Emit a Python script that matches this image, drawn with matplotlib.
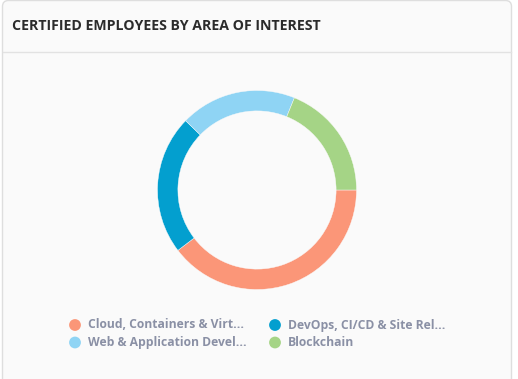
#!/usr/bin/env python3

import matplotlib
matplotlib.use("Agg")
import matplotlib.pyplot as plt
from matplotlib.patches import FancyBboxPatch

plt.rcParams['font.family'] = ['Open Sans', 'DejaVu Sans']

title = "CERTIFIED EMPLOYEES BY AREA OF INTEREST"
labels = ["Cloud, Containers & Virt...", "DevOps, CI/CD & Site Rel...",
          "Web & Application Devel...", "Blockchain"]
values = [21, 12, 10, 10]
colors = ["#fb9678", "#039fcf", "#8fd4f4", "#a5d486"]

W, H = 518, 379
fig = plt.figure(figsize=(W / 100, H / 100), dpi=100, facecolor="white")

# overlay in pixel coords for the card, header and legend
bg = fig.add_axes([0, 0, 1, 1])
bg.set_xlim(0, W)
bg.set_ylim(H, 0)
bg.axis("off")

card = FancyBboxPatch((2.5, 0.5), 509, 420, boxstyle="round,pad=0,rounding_size=6",
                      facecolor="#fafafa", edgecolor="#dedede", linewidth=1)
bg.add_patch(card)
bg.plot([3, 511], [51.5, 51.5], color="#e2e2e2", linewidth=1)
bg.text(12, 26, title, fontsize=10.2, fontweight="bold", color="#2b2b2b",
        va="center", ha="left")

# legend, two columns
col_x = [75, 275]
row_y = [325, 342.5]
for i, (lab, c) in enumerate(zip(labels, colors)):
    x = col_x[i % 2]
    y = row_y[i // 2]
    bg.scatter([x], [y], s=72, color=c, edgecolors="none")
    bg.text(x + 13, y, lab, fontsize=8.7, fontweight="bold", color="#8a90a5",
            va="center", ha="left")

# donut
cx, cy, r = 257, 190, 99.5
ax = fig.add_axes([(cx - r) / W, 1 - (cy + r) / H, 2 * r / W, 2 * r / H])
ax.pie(values, colors=colors, startangle=0, counterclock=False,
       wedgeprops=dict(width=0.205, edgecolor="#fafafa", linewidth=0.3))
ax.set_xlim(-1, 1)
ax.set_ylim(-1, 1)
ax.set_aspect("equal")
ax.axis("off")

fig.savefig("out.png", dpi=100, facecolor="white")
